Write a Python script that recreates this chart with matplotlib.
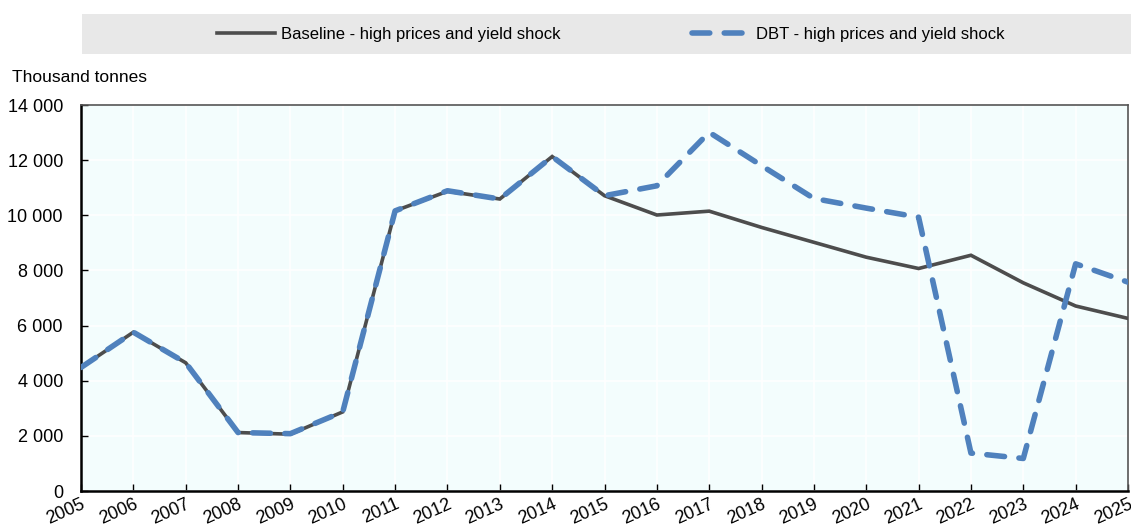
import matplotlib
matplotlib.use("Agg")
import matplotlib.pyplot as plt
from matplotlib.patches import Rectangle
from matplotlib.ticker import FuncFormatter, MultipleLocator

plt.rcParams['font.family'] = ['Liberation Sans', 'DejaVu Sans']

years = list(range(2005, 2026))
baseline = [4480, 5760, 4650, 2120, 2060, 2870, 10160, 10870, 10590, 12130, 10710,
            10010, 10150, 9560, 9020, 8480, 8070, 8550, 7550, 6710, 6260]
dbt = [4480, 5760, 4650, 2120, 2080, 2870, 10160, 10890, 10590, 12130, 10710,
       11070, 13010, 11800, 10610, 10260, 9930, 1375, 1180, 8240, 7575]
series_labels = ["Baseline - high prices and yield shock", "DBT - high prices and yield shock"]
y_unit = "Thousand tonnes"

W, H = 1131, 530
fig = plt.figure(figsize=(W / 100, H / 100), dpi=100)
ax = fig.add_axes([81 / W, 1 - 491 / H, (1128 - 81) / W, (491 - 105) / H])
ax.set_facecolor('#f3fdfd')

ax.plot(years, baseline, color='#4d4d4d', lw=2.6, zorder=3, label=series_labels[0],
        solid_joinstyle='miter')
ax.plot(years, dbt, color='#4f81bd', lw=4.0, zorder=4, label=series_labels[1],
        dashes=(3.2, 2.6), dash_capstyle='round')

ax.set_xlim(2005, 2025)
ax.set_ylim(0, 14000)
ax.set_xticks(years)
ax.set_xticklabels([str(y) for y in years], rotation=24, fontsize=13)
for lab in ax.get_xticklabels():
    lab.set_ha('right')
    lab.set_va('top')
    lab.set_rotation_mode('anchor')
ax.yaxis.set_major_locator(MultipleLocator(2000))
ax.yaxis.set_major_formatter(FuncFormatter(lambda v, p: f"{int(v):,}".replace(",", " ")))
ax.tick_params(axis='y', labelsize=13, direction='in', length=5, width=1, pad=13)
ax.tick_params(axis='x', direction='in', length=5, width=1, pad=3.5)

ax.grid(True, color='white', lw=1.2, zorder=0)
ax.set_axisbelow(True)
for side in ('left', 'bottom'):
    ax.spines[side].set_color('black')
    ax.spines[side].set_linewidth(1.8)
for side in ('top', 'right'):
    ax.spines[side].set_color('#555555')
    ax.spines[side].set_linewidth(1.2)

# legend band above the plot
fig.patches.append(Rectangle((82 / W, 1 - 54 / H), (W - 82) / W, 40 / H,
                             transform=fig.transFigure, facecolor='#e8e8e8',
                             edgecolor='none', zorder=0))
handles, labels = ax.get_legend_handles_labels()
fig.legend(handles, labels, loc='center', bbox_to_anchor=(0.54, 1 - 34 / H), ncol=2,
           frameon=False, fontsize=12, handlelength=3.5, columnspacing=7.9,
           handletextpad=0.35)

fig.text(12 / W, 1 - 78 / H, y_unit, fontsize=12.5, va='center', ha='left')

fig.savefig('out.png', dpi=100)
